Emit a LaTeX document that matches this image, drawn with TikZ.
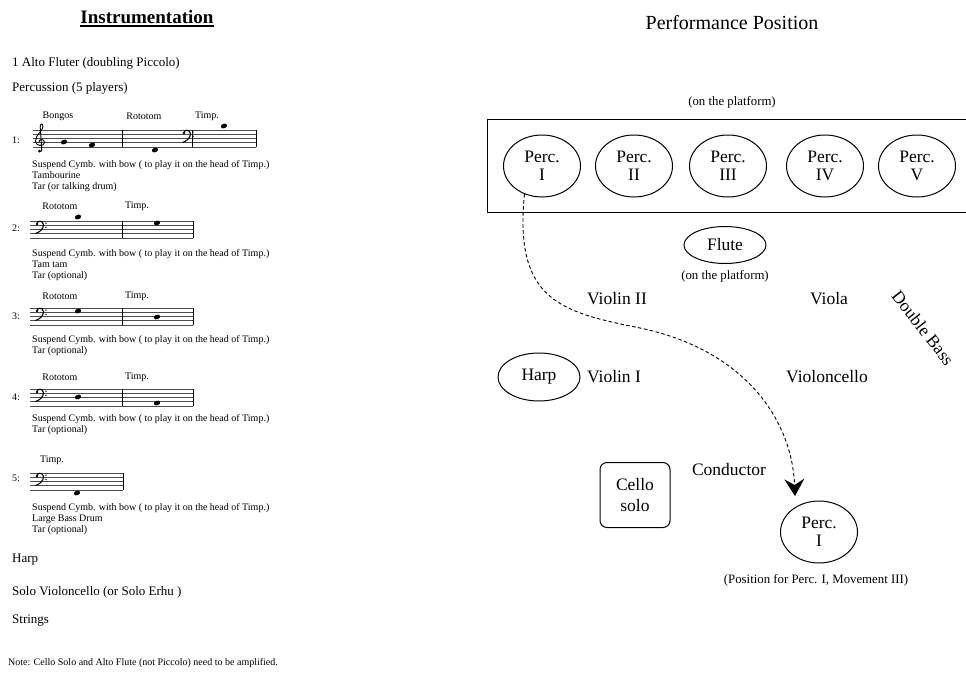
\documentclass[tikz,border=0pt]{standalone}
\usepackage{fontspec}
\setmainfont{Liberation Serif}
\usetikzlibrary{arrows.meta,shapes.geometric,positioning}
\tikzset{
  body/.style={anchor=west, inner sep=0pt, font=\fontsize{13}{15}\selectfont},
  remark/.style={anchor=north west, inner sep=0pt, align=left, font=\fontsize{10}{11.3}\selectfont},
  instr/.style={inner sep=0pt, font=\fontsize{10}{11}\selectfont},
  player/.style={draw, ellipse, line width=1pt, minimum width=77pt, minimum height=62pt,
    inner sep=0pt, align=center, font=\fontsize{17.5}{18.5}\selectfont},
  section/.style={inner sep=0pt, font=\fontsize{17.5}{19}\selectfont},
  aside/.style={inner sep=0pt, font=\fontsize{12.8}{14}\selectfont},
  staffline/.style={line width=0.6pt, black!70},
  barline/.style={line width=1pt},
  bassclef/.pic={
    \fill (1,3) circle (1.4);
    \draw[line width=1.1pt] (1,3) .. controls (0.5,-0.5) and (7,-1) .. (7.5,3.5)
      .. controls (7.8,8) and (3,11.5) .. (-0.5,12.5);
    \fill (10,2.1) circle (0.8) (10,6.3) circle (0.8);
  },
  trebleclef/.pic={
    \draw[line width=0.9pt] (1.5,21) .. controls (3.5,22.5) and (4.5,19.5) .. (3.6,17) -- (2.2,-3)
      .. controls (2,-6.5) and (5,-7.5) .. (5,-3.5) .. controls (5,0.5) and (-2.5,5) .. (-2.5,11)
      .. controls (-2.5,16.5) and (6.5,17) .. (6.5,12.5) .. controls (6.5,8.5) and (0.5,8.5) .. (1,12.5);
    \fill (1.5,21) circle (1.5);
  },
}
\newcommand\stafflines[3]{\foreach \k in {0,...,4} \draw[staffline] (#1,#3+\k*4.2) -- (#2,#3+\k*4.2);}
\newcommand\notehead[2]{\fill (#1,#2) ellipse [x radius=3.2, y radius=2.3, rotate=20];}

\begin{document}
\begin{tikzpicture}[x=1pt, y=-1pt]
  \useasboundingbox (0,0) rectangle (966,677);

  % instrumentation list
  \node[inner sep=0pt, font=\fontsize{19}{21}\selectfont\bfseries] (title) at (147,17) {Instrumentation};
  \draw[line width=1.8pt] ([yshift=-2pt]title.south west) -- ([yshift=-2pt]title.south east);

  \node[body] (flute) at (12,63) {1 Alto Fluter (doubling Piccolo)};
  \node[body] (perc) at (12,88) {Percussion (5 players)};

  % player 1
  \node[instr] (bongos1) at (58,116) {Bongos};
  \node[instr] (roto1) at (144,116) {Rototom};
  \node[instr] (timp1) at (207,116) {Timp.};
  \node[instr, anchor=west] (num1) at (12,140) {1:};
  \stafflines{33}{256}{130}
  \foreach \x in {122,192,256} \draw[barline] (\x,130) -- (\x,146.8);
  \pic at (38,130) {trebleclef};
  \pic at (183,130) {bassclef};
  \notehead{64}{142} \notehead{92}{145} \notehead{155}{150} \notehead{224}{126}
  \node[remark] (rem1) at (32,160) {Suspend Cymb. with bow ( to play it on the head of Timp.)\\Tambourine\\Tar (or talking drum)};

  % player 2
  \node[instr] (roto2) at (60,206) {Rototom};
  \node[instr] (timp2) at (137,206) {Timp.};
  \node[instr, anchor=west] (num2) at (12,228) {2:};
  \stafflines{30}{193}{221}
  \foreach \x in {122,193} \draw[barline] (\x,221) -- (\x,237.8);
  \pic at (36,221) {bassclef};
  \notehead{78}{217} \notehead{157}{223}
  \node[remark] (rem2) at (32,249) {Suspend Cymb. with bow ( to play it on the head of Timp.)\\Tam tam\\Tar (optional)};

  % player 3
  \node[instr] (roto3) at (60,296) {Rototom};
  \node[instr] (timp3) at (137,296) {Timp.};
  \node[instr, anchor=west] (num3) at (12,316) {3:};
  \stafflines{30}{193}{308}
  \foreach \x in {122,193} \draw[barline] (\x,308) -- (\x,324.8);
  \pic at (36,308) {bassclef};
  \notehead{78}{311} \notehead{157}{317}
  \node[remark] (rem3) at (32,335) {Suspend Cymb. with bow ( to play it on the head of Timp.)\\Tar (optional)};

  % player 4
  \node[instr] (roto4) at (60,377) {Rototom};
  \node[instr] (timp4) at (137,377) {Timp.};
  \node[instr, anchor=west] (num4) at (12,397) {4:};
  \stafflines{30}{193}{389}
  \foreach \x in {122,193} \draw[barline] (\x,389) -- (\x,405.8);
  \pic at (36,389) {bassclef};
  \notehead{78}{397} \notehead{157}{403}
  \node[remark] (rem4) at (32,414) {Suspend Cymb. with bow ( to play it on the head of Timp.)\\Tar (optional)};

  % player 5
  \node[instr] (timp5) at (52,460) {Timp.};
  \node[instr, anchor=west] (num5) at (12,478) {5:};
  \stafflines{30}{123}{473}
  \draw[barline] (123,473) -- (123,489.8);
  \pic at (36,473) {bassclef};
  \notehead{77}{493}
  \node[remark] (rem5) at (32,503) {Suspend Cymb. with bow ( to play it on the head of Timp.)\\Large Bass Drum\\Tar (optional)};

  \node[body] (harpl) at (12,560) {Harp};
  \node[body] (solol) at (12,592) {Solo Violoncello (or Solo Erhu )};
  \node[body] (strings) at (12,621) {Strings};
  \node[instr, anchor=west] (amp) at (8,663) {Note: Cello Solo and Alto Flute (not Piccolo) need to be amplified.};

  % performance position
  \node[inner sep=0pt, font=\fontsize{20}{22}\selectfont] (pos) at (732,23) {Performance Position};
  \node[aside] (plat) at (732,102) {(on the platform)};
  \draw[line width=1pt] (966,119) -- (487,119) -- (487,212) -- (966,212);
  \foreach \num/\rn/\x in {1/I/542, 2/II/634, 3/III/728, 4/IV/825, 5/V/917}
    \node[player] (perc\num) at (\x,166) {Perc.\\\rn};

  \node[player, minimum width=82pt, minimum height=37pt] (fl) at (725,245) {Flute};
  \node[aside] (plat2) at (725,276) {(on the platform)};
  \node[section] (vln2) at (617,299) {Violin II};
  \node[section] (vla) at (829,299) {Viola};
  \node[section, rotate=-52] (cb) at (923,328) {Double Bass};
  \node[player, minimum width=82pt, minimum height=48pt] (hp) at (539,377) {Harp};
  \node[section] (vln1) at (614,377) {Violin I};
  \node[section] (vc) at (827,377) {Violoncello};
  \node[draw, line width=1pt, rounded corners=7pt, minimum width=70pt, minimum height=65pt,
    inner sep=0pt, align=center, font=\fontsize{17.5}{21.5}\selectfont] (cello) at (635,495) {Cello\\solo};
  \node[section] (cond) at (729,470) {Conductor};
  \node[player] (percb) at (819,532) {Perc.\\I};
  \node[aside] (move) at (816,580) {(Position for Perc. I, Movement III)};

  \coordinate (tip) at (795,496);
  \draw[line width=0.9pt, dash pattern=on 3.5pt off 2.5pt, -{Stealth[length=17pt, width=20pt, inset=6pt]}]
    (perc1.238) .. controls (514,300) and (560,312) .. (640,328)
    .. controls (745,350) and (792,420) .. (tip);
\end{tikzpicture}
\end{document}
